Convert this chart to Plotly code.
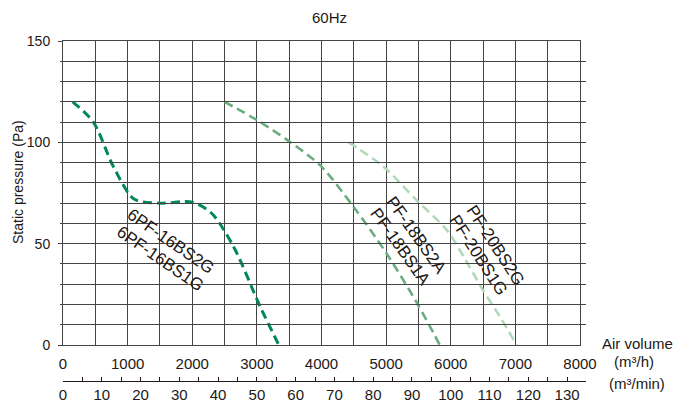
import plotly.graph_objects as go

# ---- data ----
s1_name = ["6PF-16BS2G", "6PF-16BS1G"]
s1_x = [150, 470, 780, 1100, 1500, 2000, 2300, 2640, 3050, 3340]
s1_y = [120, 110, 88, 72, 70, 70.5, 65, 48.5, 19, 0]

s2_name = ["PF-18BS2A", "PF-18BS1A"]
s2_x = [2500, 3000, 3500, 4000, 4500, 5000, 5500, 5830]
s2_y = [120, 111, 100.5, 88, 68, 45.5, 19.5, 0]

s3_name = ["PF-20BS2G", "PF-20BS1G"]
s3_x = [4420, 4960, 5470, 5940, 6200, 6500, 6760, 7020]
s3_y = [100, 88, 71.5, 56.7, 43.6, 27, 14, 0]

x_ticks = list(range(0, 8001, 1000))
x2_ticks = list(range(0, 131, 10))
y_ticks = [0, 50, 100, 150]

title = "60Hz"
y_title = "Static pressure (Pa)"
x_title = "Air volume"
x_unit = "(m³/h)"
x2_unit = "(m³/min)"

# ---- styles ----
FONT = "Liberation Sans, Arial, sans-serif"
TXT = "#231815"
GRID = "#444444"
c1, c2, c3 = "#00875a", "#6aad80", "#b2d8ba"
DASH = "9px,5px"

fig = go.Figure()
for xs, ys, col, w in [(s1_x, s1_y, c1, 3), (s2_x, s2_y, c2, 2.6), (s3_x, s3_y, c3, 2.6)]:
    fig.add_trace(go.Scatter(x=xs, y=ys, mode="lines",
                             line=dict(color=col, width=w, dash=DASH, shape="spline", smoothing=0.8),
                             showlegend=False, hoverinfo="skip"))
# dummy trace to create the m3/min axis
fig.add_trace(go.Scatter(x=[None], y=[None], xaxis="x2", yaxis="y", showlegend=False, hoverinfo="skip"))

L, R, T, B = 63, 88, 41, 25
W, H = 688, 406
pw = W - L - R
ph = H - T - B
plot_right = 580
plot_bottom = 345
x2_px_end = 63 + 135 * 60 * (plot_right - L) / 8000

fig.update_layout(
    width=W, height=H,
    margin=dict(l=L, r=R, t=T, b=B, pad=0),
    plot_bgcolor="rgba(0,0,0,0)", paper_bgcolor="white",
    font=dict(family=FONT, color=TXT, size=15),
    xaxis=dict(domain=[0, (plot_right - L) / pw], anchor="y", range=[0, 8000],
               tickvals=x_ticks, ticks="", ticklabelstandoff=5, automargin=False,
               showgrid=True, gridcolor=GRID, gridwidth=1,
               minor=dict(dtick=500, tick0=0, showgrid=True, gridcolor=GRID, gridwidth=1),
               showline=True, mirror=True, linecolor=GRID, linewidth=1, zeroline=False,
               tickfont=dict(size=15)),
    xaxis2=dict(domain=[0, (x2_px_end - L) / pw], anchor="free", position=0, range=[0, 135],
                tickvals=x2_ticks, ticks="inside", ticklen=4, tickcolor=TXT, automargin=False,
                minor=dict(dtick=5, tick0=0, ticks="inside", ticklen=4, tickcolor=TXT, showgrid=False),
                showgrid=False, showline=True, linecolor=TXT, linewidth=1, zeroline=False,
                tickfont=dict(size=15)),
    yaxis=dict(domain=[(H - B - plot_bottom) / ph, 1], range=[0, 150],
               tickvals=y_ticks, ticks="outside", ticklen=4, tickcolor=GRID,
               ticklabelstandoff=5, automargin=False,
               showgrid=True, gridcolor=GRID, gridwidth=1,
               minor=dict(dtick=10, tick0=0, showgrid=True, gridcolor=GRID, gridwidth=1,
                          ticks="outside", ticklen=2, tickcolor=GRID),
               showline=True, mirror=True, linecolor=GRID, linewidth=1, zeroline=False,
               tickfont=dict(size=14)),
)

def px_to_paper(px, py):
    return (px - L) / pw, (H - B - py) / ph

anns = []
def add_paper(text, px, py, size, angle=0):
    tx, ty = px_to_paper(px, py)
    anns.append(dict(text=text, x=tx, y=ty, xref="paper", yref="paper", showarrow=False,
                     xanchor="center", yanchor="middle", textangle=angle, font=dict(size=size)))

add_paper(title, 329, 17, 15)
add_paper(y_title, 18, 182, 14, -90)
add_paper(x_title, 637, 343, 15)
add_paper(x_unit, 634, 361, 15)
add_paper(x2_unit, 637, 383, 15)

# curve labels (data coordinates)
label_specs = [
    (s1_name[0], 1668, 51.0, 34.6), (s1_name[1], 1501, 42.9, 34.6),
    (s2_name[0], 5455, 54.3, 54.5), (s2_name[1], 5215, 48.5, 54.5),
    (s3_name[0], 6697, 49.3, 57), (s3_name[1], 6426, 44.0, 57),
]
for txt, x, y, ang in label_specs:
    anns.append(dict(text=txt, x=x, y=y, xref="x", yref="y", showarrow=False,
                     textangle=ang, xanchor="center", yanchor="middle", font=dict(size=17)))

fig.update_layout(annotations=anns)
fig.write_html("out.html")
